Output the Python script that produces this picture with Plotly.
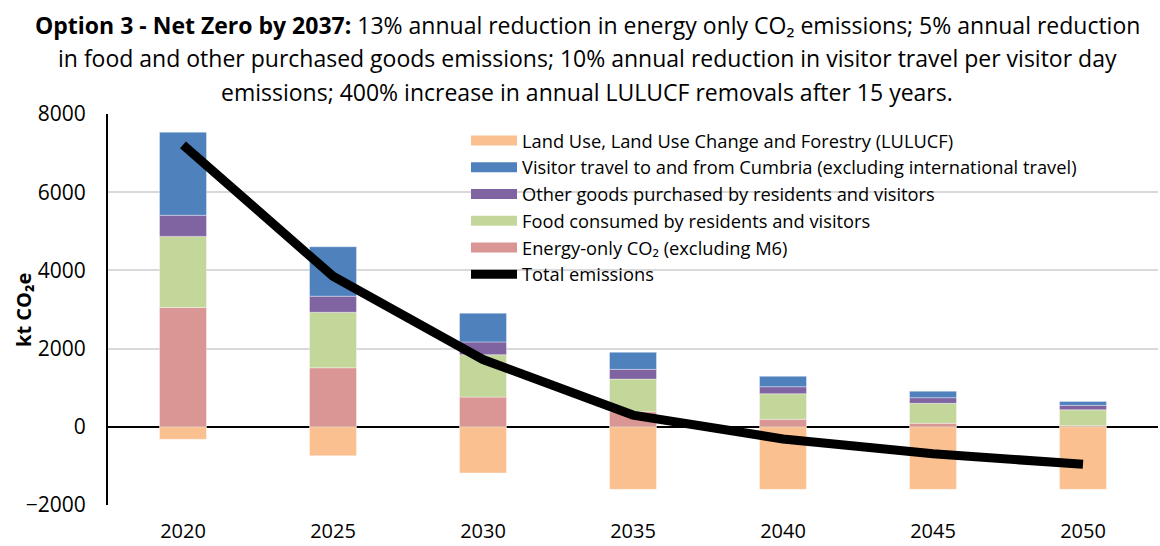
import plotly.graph_objects as go

years = ["2020", "2025", "2030", "2035", "2040", "2045", "2050"]
energy = [3050, 1510, 760, 385, 190, 90, 25]
food = [1820, 1420, 1085, 835, 655, 510, 410]
other_goods = [540, 410, 325, 250, 180, 145, 113]
visitor_travel = [2125, 1265, 735, 435, 265, 165, 102]
lulucf = [-320, -740, -1180, -1600, -1600, -1600, -1600]
total = [7210, 3850, 1720, 300, -310, -690, -960]

names = {
    "lulucf": "Land Use, Land Use Change and Forestry (LULUCF)",
    "visitor": "Visitor travel to and from Cumbria (excluding international travel)",
    "other": "Other goods purchased by residents and visitors",
    "food": "Food consumed by residents and visitors",
    "energy": "Energy-only CO₂ (excluding M6)",
    "total": "Total emissions",
}
colors = {
    "lulucf": "#FAC090",
    "visitor": "#4F81BD",
    "other": "#8064A2",
    "food": "#C4D79B",
    "energy": "#DA9694",
}

FONT = "Open Sans, Carlito, Calibri, sans-serif"

fig = go.Figure()
series = [("energy", energy), ("food", food), ("other", other_goods),
          ("visitor", visitor_travel), ("lulucf", lulucf)]
for key, vals in series:
    fig.add_trace(go.Bar(x=years, y=vals, name=names[key], marker_color=colors[key],
                         marker_line_width=0.6, marker_line_color="rgba(255,255,255,0.6)",
                         legendgroup=key, showlegend=False))

fig.add_trace(go.Scatter(x=years, y=total, mode="lines", name=names["total"],
                         line=dict(color="black", width=9), legendgroup="total",
                         showlegend=False))

# legend entries (rectangular swatches), in the reference order
for key in ["lulucf", "visitor", "other", "food", "energy"]:
    fig.add_trace(go.Scatter(x=[None], y=[None], mode="lines", name=names[key],
                             line=dict(color=colors[key], width=10), legendgroup=key))
fig.add_trace(go.Scatter(x=[None], y=[None], mode="lines", name=names["total"],
                         line=dict(color="black", width=9), legendgroup="total"))

title_lines = [
    "<b>Option 3 - Net Zero by 2037:</b> 13% annual reduction in energy only CO₂ emissions; 5% annual reduction",
    "in food and other purchased goods emissions; 10% annual reduction in visitor travel per visitor day",
    "emissions; 400% increase in annual LULUCF removals after 15 years.",
]
annotations = []
for i, t in enumerate(title_lines):
    annotations.append(dict(text=t, xref="paper", yref="paper", x=(587 - 108) / 1050,
                            y=1 + (114 - (25 + 33.5 * i)) / 391, xanchor="center",
                            yanchor="middle", showarrow=False,
                            font=dict(family=FONT, size=23, color="black")))
annotations.append(dict(text="<b>kt CO₂e</b>", xref="paper", yref="paper",
                        x=(23 - 108) / 1050, y=(505 - 310) / 391, textangle=-90,
                        xanchor="center", yanchor="middle", showarrow=False,
                        font=dict(family=FONT, size=20, color="black")))

fig.update_layout(
    width=1160, height=546,
    margin=dict(l=108, r=2, t=114, b=41, autoexpand=False),
    paper_bgcolor="white", plot_bgcolor="white",
    barmode="relative", bargap=0.687,
    font=dict(family=FONT, size=20, color="black"),
    annotations=annotations,
    legend=dict(x=(466 - 108) / 1050, y=1 - (122 - 114) / 391, xanchor="left", yanchor="top",
                font=dict(family=FONT, size=18.3, color="black"), bgcolor="rgba(0,0,0,0)",
                itemwidth=46, tracegroupgap=0, traceorder="normal"),
    showlegend=True,
)
fig.update_xaxes(type="category", showgrid=False, showline=False, ticks="", automargin=False,
                 tickfont=dict(family=FONT, size=20), ticklabelstandoff=12)
fig.update_yaxes(range=[-2000, 8000], dtick=2000, showgrid=True, gridcolor="#D9D9D9",
                 gridwidth=1.5, showline=True, linecolor="black", linewidth=2,
                 zeroline=True, zerolinecolor="black", zerolinewidth=1.5, automargin=False,
                 tickfont=dict(family=FONT, size=21), ticklabelstandoff=16)

fig.write_html("out.html", post_script="document.body.style.margin='0';",
               config={"displayModeBar": False})
